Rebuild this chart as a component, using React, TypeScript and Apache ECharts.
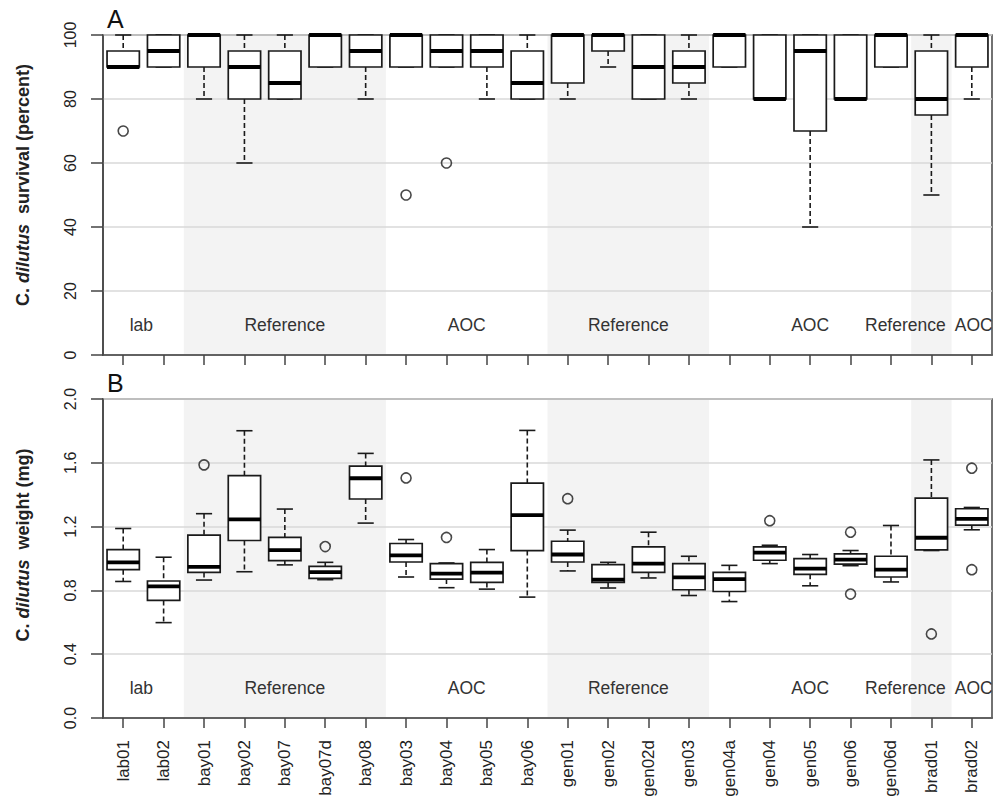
import React, { useEffect, useRef } from "react";
import * as echarts from "echarts";

const categories = [
  "lab01", "lab02", "bay01", "bay02", "bay07", "bay07d", "bay08", "bay03", "bay04", "bay05", "bay06",
  "gen01", "gen02", "gen02d", "gen03", "gen04a", "gen04", "gen05", "gen06", "gen06d", "brad01", "brad02",
];

// survival (percent): [low whisker, Q1, median, Q3, high whisker]
const survivalBoxes: number[][] = [
  [90, 90, 90, 95, 100],
  [90, 90, 95, 100, 100],
  [80, 90, 100, 100, 100],
  [60, 80, 90, 95, 100],
  [80, 80, 85, 95, 100],
  [90, 90, 100, 100, 100],
  [80, 90, 95, 100, 100],
  [90, 90, 100, 100, 100],
  [90, 90, 95, 100, 100],
  [80, 90, 95, 100, 100],
  [80, 80, 85, 95, 100],
  [80, 85, 100, 100, 100],
  [90, 95, 100, 100, 100],
  [80, 80, 90, 100, 100],
  [80, 85, 90, 95, 100],
  [90, 90, 100, 100, 100],
  [80, 80, 80, 100, 100],
  [40, 70, 95, 100, 100],
  [80, 80, 80, 100, 100],
  [90, 90, 100, 100, 100],
  [50, 75, 80, 95, 100],
  [80, 90, 100, 100, 100],
];
const survivalOutliers: [string, number][] = [
  ["lab01", 70], ["bay03", 50], ["bay04", 60],
];

// weight (mg): [low whisker, Q1, median, Q3, high whisker]
const weightBoxes: number[][] = [
  [0.856, 0.93, 0.976, 1.056, 1.188],
  [0.598, 0.737, 0.825, 0.859, 1.008],
  [0.865, 0.913, 0.947, 1.146, 1.281],
  [0.917, 1.113, 1.245, 1.52, 1.801],
  [0.96, 0.987, 1.052, 1.132, 1.31],
  [0.867, 0.875, 0.915, 0.951, 0.976],
  [1.222, 1.373, 1.503, 1.579, 1.659],
  [0.884, 0.978, 1.02, 1.094, 1.119],
  [0.817, 0.871, 0.905, 0.968, 0.972],
  [0.808, 0.85, 0.911, 0.976, 1.056],
  [0.758, 1.05, 1.272, 1.472, 1.803],
  [0.922, 0.978, 1.025, 1.108, 1.178],
  [0.815, 0.85, 0.867, 0.962, 0.976],
  [0.878, 0.913, 0.968, 1.073, 1.165],
  [0.768, 0.804, 0.882, 0.968, 1.014],
  [0.73, 0.793, 0.871, 0.913, 0.957],
  [0.968, 0.989, 1.037, 1.073, 1.083],
  [0.829, 0.901, 0.936, 0.999, 1.025],
  [0.955, 0.965, 0.993, 1.029, 1.05],
  [0.853, 0.884, 0.93, 1.014, 1.207],
  [1.05, 1.054, 1.13, 1.379, 1.618],
  [1.18, 1.209, 1.249, 1.312, 1.32],
];
const weightOutliers: [string, number][] = [
  ["bay01", 1.587], ["bay07d", 1.075], ["bay03", 1.505], ["bay04", 1.132],
  ["gen01", 1.375], ["gen04", 1.237], ["gen06", 1.165], ["gen06", 0.777],
  ["brad01", 0.527], ["brad02", 1.566], ["brad02", 0.93],
];

// site groups
const groupNames = ["lab", "Reference", "AOC", "Reference", "AOC", "Reference", "AOC"];
const groupStart = ["lab01", "bay01", "bay03", "gen01", "gen04a", "brad01", "brad02"];
const groupEnd = ["lab02", "bay08", "bay06", "gen03", "gen06d", "brad01", "brad02"];
const groupShaded = [false, true, false, true, false, true, false];
const groupLabelShift = [-2, 0, 0, 0, 0, -26, 2];

const survivalTicks = { min: 0, max: 100, interval: 20 };
const weightTicks = { min: 0, max: 2.0, interval: 0.4 };

const FONT = "'Liberation Sans', Arial, Helvetica, sans-serif";

function idx(name: string) {
  return categories.indexOf(name);
}

function bandSeries(gridIndex: number) {
  return {
    type: "custom",
    xAxisIndex: gridIndex,
    yAxisIndex: gridIndex,
    z: -1,
    silent: true,
    clip: false,
    encode: { x: [0, 1] },
    data: groupNames.map((_, i) => [idx(groupStart[i]), idx(groupEnd[i])]),
    renderItem: (params: any, api: any) => {
      const i = params.dataIndex;
      const bw = api.size([1, 0])[0];
      const x0 = api.coord([api.value(0), 0])[0] - bw / 2;
      const x1 = api.coord([api.value(1), 0])[0] + bw / 2;
      const cs = params.coordSys;
      const children: any[] = [];
      if (groupShaded[i]) {
        children.push({
          type: "rect",
          shape: { x: x0, y: cs.y, width: x1 - x0, height: cs.height },
          style: { fill: "#f3f3f3" },
        });
      }
      children.push({
        type: "text",
        z2: 5,
        style: {
          text: groupNames[i],
          x: (x0 + x1) / 2 + groupLabelShift[i],
          y: cs.y + cs.height - 30,
          align: "center",
          verticalAlign: "middle",
          fontSize: 17.5,
          fontFamily: FONT,
          fill: "#333",
        },
      });
      return { type: "group", children };
    },
  };
}

function boxSeries(gridIndex: number, boxes: number[][]) {
  return {
    type: "custom",
    xAxisIndex: gridIndex,
    yAxisIndex: gridIndex,
    z: 3,
    silent: true,
    clip: false,
    encode: { x: 0, y: [1, 2, 3, 4, 5] },
    data: boxes.map((b, i) => [i, ...b]),
    renderItem: (params: any, api: any) => {
      const i = api.value(0);
      const bw = api.size([1, 0])[0];
      const cx = api.coord([i, 0])[0];
      const y = (k: number) => api.coord([i, api.value(k)])[1];
      const yLow = y(1), yQ1 = y(2), yMed = y(3), yQ3 = y(4), yHigh = y(5);
      const half = bw * 0.4;
      const cap = bw * 0.2;
      const stroke = "#1a1a1a";
      const children: any[] = [];
      if (yHigh < yQ3 - 0.5) {
        children.push({
          type: "line",
          shape: { x1: cx, y1: yHigh, x2: cx, y2: yQ3 },
          style: { stroke, lineWidth: 1.6, lineDash: [5, 3] },
        });
      }
      if (yLow > yQ1 + 0.5) {
        children.push({
          type: "line",
          shape: { x1: cx, y1: yQ1, x2: cx, y2: yLow },
          style: { stroke, lineWidth: 1.6, lineDash: [5, 3] },
        });
      }
      children.push(
        {
          type: "line",
          shape: { x1: cx - cap, y1: yHigh, x2: cx + cap, y2: yHigh },
          style: { stroke, lineWidth: 1.6 },
        },
        {
          type: "line",
          shape: { x1: cx - cap, y1: yLow, x2: cx + cap, y2: yLow },
          style: { stroke, lineWidth: 1.6 },
        },
        {
          type: "rect",
          shape: { x: cx - half, y: yQ3, width: 2 * half, height: yQ1 - yQ3 },
          style: { fill: "#fff", stroke, lineWidth: 1.7 },
        },
        {
          type: "line",
          shape: { x1: cx - half, y1: yMed, x2: cx + half, y2: yMed },
          style: { stroke: "#000", lineWidth: 3.8 },
        }
      );
      return { type: "group", children };
    },
  };
}

function outlierSeries(gridIndex: number, pts: [string, number][]) {
  return {
    type: "scatter",
    xAxisIndex: gridIndex,
    yAxisIndex: gridIndex,
    z: 4,
    silent: true,
    symbol: "circle",
    symbolSize: 10,
    itemStyle: { color: "rgba(255,255,255,0)", borderColor: "#1a1a1a", borderWidth: 1.6 },
    data: pts.map(([n, v]) => [idx(n), v]),
  };
}

function xAxis(gridIndex: number, showLabels: boolean) {
  return {
    type: "category",
    gridIndex,
    data: categories,
    boundaryGap: true,
    axisLine: { show: true, lineStyle: { color: "#444", width: 1.5 } },
    axisTick: { show: true, alignWithLabel: true, interval: 0, length: 10, lineStyle: { color: "#444", width: 1.5 } },
    axisLabel: {
      show: showLabels,
      interval: 0,
      rotate: 90,
      margin: 22,
      fontSize: 17,
      fontFamily: FONT,
      color: "#222",
    },
    splitLine: { show: false },
  };
}

function yAxis(gridIndex: number, t: { min: number; max: number; interval: number }, digits: number) {
  return {
    type: "value",
    gridIndex,
    min: t.min,
    max: t.max,
    interval: t.interval,
    axisLine: { show: true, lineStyle: { color: "#444", width: 1.5 } },
    axisTick: { show: true, length: 12, lineStyle: { color: "#444", width: 1.5 } },
    axisLabel: {
      rotate: 90,
      margin: 25,
      fontSize: 16,
      fontFamily: FONT,
      color: "#222",
      formatter: (v: number) => v.toFixed(digits),
    },
    splitLine: { show: true, lineStyle: { color: "#d9d9d9", width: 1.5 } },
  };
}

export default function App() {
  const ref = useRef<HTMLDivElement>(null);
  useEffect(() => {
    if (!ref.current) return;
    const chart = echarts.init(ref.current, undefined, { renderer: "svg" });
    const titleRich = {
      n: { fontSize: 18, fontWeight: "bold", fontFamily: FONT, fill: "#222" },
      i: { fontSize: 18, fontWeight: "bold", fontStyle: "italic", fontFamily: FONT, fill: "#222" },
    };
    chart.setOption({
      animation: false,
      backgroundColor: "#fff",
      grid: [
        { left: 103, right: 1, top: 35, height: 320, show: true, borderColor: "#444", borderWidth: 1.5, containLabel: false },
        { left: 103, right: 1, top: 399, height: 319, show: true, borderColor: "#444", borderWidth: 1.5, containLabel: false },
      ],
      xAxis: [xAxis(0, false), xAxis(1, true)],
      yAxis: [yAxis(0, survivalTicks, 0), yAxis(1, weightTicks, 1)],
      graphic: [
        {
          type: "text",
          left: 107,
          top: 6,
          style: { text: "A", fontSize: 25, fontFamily: FONT, fill: "#111" },
        },
        {
          type: "text",
          left: 107,
          top: 370,
          style: { text: "B", fontSize: 25, fontFamily: FONT, fill: "#111" },
        },
        {
          type: "text",
          x: 23,
          y: 185,
          rotation: Math.PI / 2,
          style: {
            text: "{n|C. }{i|dilutus}{n|  survival (percent)}",
            rich: titleRich,
            align: "center",
            verticalAlign: "middle",
          },
        },
        {
          type: "text",
          x: 23,
          y: 545,
          rotation: Math.PI / 2,
          style: {
            text: "{n|C. }{i|dilutus}{n|  weight (mg)}",
            rich: titleRich,
            align: "center",
            verticalAlign: "middle",
          },
        },
      ],
      series: [
        bandSeries(0),
        bandSeries(1),
        boxSeries(0, survivalBoxes),
        boxSeries(1, weightBoxes),
        outlierSeries(0, survivalOutliers),
        outlierSeries(1, weightOutliers),
      ],
    });
    return () => chart.dispose();
  }, []);
  return (
    <div
      ref={ref}
      style={{ position: "fixed", left: 0, top: 0, width: 993, height: 801 }}
    />
  );
}
